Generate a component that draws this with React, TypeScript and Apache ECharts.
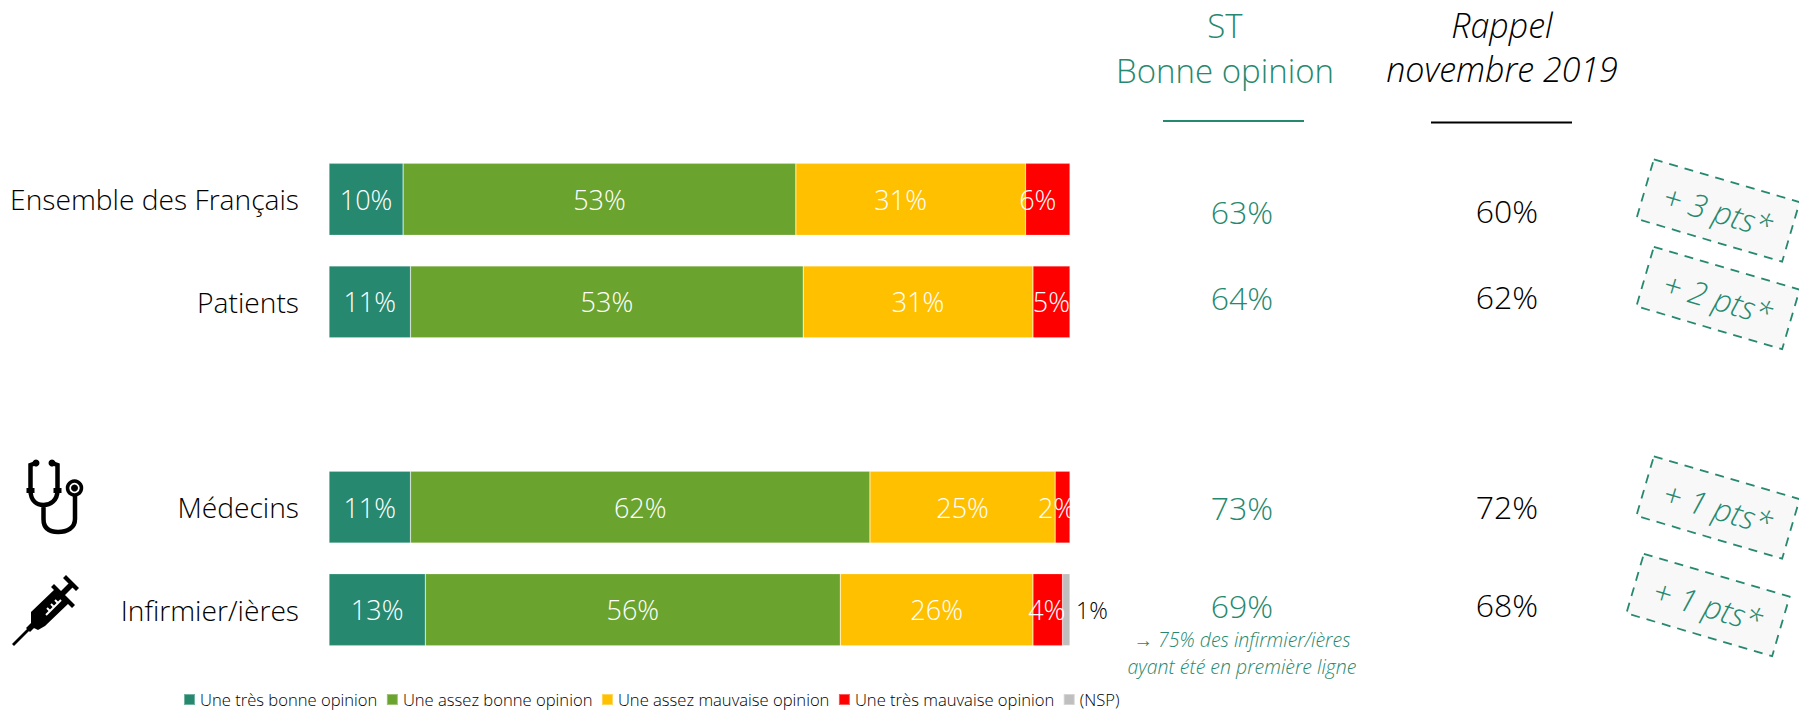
import React, { useEffect, useRef } from "react";
import * as echarts from "echarts";

const categories = ["Ensemble des Français", "Patients", "", "Médecins", "Infirmier/ières"];
const tresBonne = [10, 11, null, 11, 13];
const assezBonne = [53, 53, null, 62, 56];
const assezMauvaise = [31, 31, null, 25, 26];
const tresMauvaise = [6, 5, null, 2, 4];
const nsp = [null, null, null, null, 1];
const seriesNames = ["Une très bonne opinion", "Une assez bonne opinion", "Une assez mauvaise opinion", "Une très mauvaise opinion", "(NSP)"];
const stValues = ["63%", "64%", "73%", "69%"];
const rappelValues = ["60%", "62%", "72%", "68%"];
const deltas = ["+ 3 pts*", "+ 2 pts*", "+ 1 pts*", "+ 1 pts*"];

const FONT = "'Open Sans', sans-serif";
const TEAL = "#26896F";
const TEAL_TEXT = "#26896F";

echarts.graphic.registerShape(
  "stetho",
  echarts.graphic.extendPath(
    "M36 463 L30.5 465 L30.5 490 C30.5 501 37 505 43.5 505 C50 505 57.5 501 57.5 490 L57.5 465 L52 463 M43.5 505 L43.5 519 C43.5 529 50 532 58 532 C67 532 75 528 75 519 L75 496",
    {}
  )
);
echarts.graphic.registerShape(
  "syringe",
  echarts.graphic.extendPath(
    "M12 644 L28 628 L30 630 L14 646 Z M26 628 L31 623 L35 627 L30 632 Z M31 612 L55 589 L69 603 L45 626 L38 630 L34 628 L31 624 Z M54 584 L75 605 L72 608 L51 587 Z M60 592 L70 582 L74 586 L64 596 Z M63 578 L66 575 L79 588 L76 591 Z",
    {}
  )
);

const bar = (i: number, data: any[], color: string, offsets: Record<number, number[]> = {}) => ({
  name: seriesNames[i],
  type: "bar",
  stack: "total",
  barWidth: 72,
  data: data.map((v, k) => (offsets[k] ? { value: v, label: { offset: offsets[k] } } : v)),
  itemStyle: { color, borderColor: "rgba(255,255,255,0.35)", borderWidth: 0.6 },
  label: {
    show: true,
    position: "inside",
    color: "#fff",
    fontFamily: FONT,
    fontWeight: 300,
    fontSize: 27,
    formatter: (p: any) => (p.value == null ? "" : p.value + "%"),
  },
});

const headerStyle = (fill: string, italic = false) => ({
  fill,
  font: `${italic ? "italic " : ""}300 ${italic ? 34 : 33}px ${FONT}`,
  align: "center",
  verticalAlign: "middle",
});

const valueText = (text: string, x: number, y: number, fill: string) => ({
  type: "text",
  x,
  y,
  style: { text, fill, font: `300 32px ${FONT}`, align: "center", verticalAlign: "middle" },
});

const stampCenters = [
  [1718, 210.5],
  [1718, 298],
  [1718, 507.5],
  [1708, 605],
];
const valueRows = [211, 297, 507, 605];

export default function App() {
  const ref = useRef<HTMLDivElement>(null);
  useEffect(() => {
    document.body.style.margin = "0";
    const chart = echarts.init(ref.current!, null, { renderer: "svg" });
    chart.setOption({
      animation: false,
      backgroundColor: "#fff",
      legend: {
        left: 183,
        top: 691,
        itemWidth: 11,
        itemHeight: 11,
        itemGap: 8.5,
        icon: "rect",
        padding: 0,
        textStyle: { fontFamily: FONT, fontSize: 16.6, fontWeight: 300, color: "#000" },
        data: seriesNames,
      },
      grid: { left: 329, top: 148, width: 741, height: 513 },
      xAxis: { type: "value", min: 0, max: 100, show: false },
      yAxis: {
        type: "category",
        inverse: true,
        data: categories,
        axisLine: { show: false },
        axisTick: { show: false },
        axisLabel: { margin: 30, color: "#000", fontFamily: FONT, fontWeight: 300, fontSize: 28.2, padding: [0, 0, 3, 0] },
      },
      series: [
        bar(0, tresBonne, TEAL),
        bar(1, assezBonne, "#6AA32D"),
        bar(2, assezMauvaise, "#FFC000", { 0: [-10, 0] }),
        bar(3, tresMauvaise, "#FF0000", { 0: [-10, 0], 3: [-6, 0], 4: [-1, 0] }),
        {
          ...bar(4, nsp, "#BFBFBF"),
          label: {
            show: true,
            position: "right",
            distance: 6,
            color: "#000",
            fontFamily: FONT,
            fontWeight: 300,
            fontSize: 23,
            formatter: (p: any) => (p.value == null ? "" : p.value + "%"),
          },
        },
      ],
      graphic: [
        { type: "text", x: 1225, y: 25, style: { text: "ST", ...headerStyle(TEAL_TEXT) } },
        { type: "text", x: 1225, y: 70, style: { text: "Bonne opinion", ...headerStyle(TEAL_TEXT) } },
        { type: "text", x: 1502, y: 25, style: { text: "Rappel", ...headerStyle("#000", true) } },
        { type: "text", x: 1502, y: 69, style: { text: "novembre 2019", ...headerStyle("#000", true) } },
        { type: "line", shape: { x1: 1163, y1: 121, x2: 1304, y2: 121 }, style: { stroke: TEAL_TEXT, lineWidth: 2 } },
        { type: "line", shape: { x1: 1431, y1: 122.5, x2: 1572, y2: 122.5 }, style: { stroke: "#000", lineWidth: 2 } },
        ...stValues.map((t, i) => valueText(t, 1242, valueRows[i], TEAL_TEXT)),
        ...rappelValues.map((t, i) => valueText(t, 1507, valueRows[i] - 1, "#000")),
        {
          type: "text",
          x: 1242,
          y: 639,
          style: { text: "→ 75% des infirmier/ières", fill: TEAL_TEXT, font: `italic 300 19.5px ${FONT}`, align: "center", verticalAlign: "middle" },
        },
        {
          type: "text",
          x: 1242,
          y: 666,
          style: { text: "ayant été en première ligne", fill: TEAL_TEXT, font: `italic 300 19.5px ${FONT}`, align: "center", verticalAlign: "middle" },
        },
        ...deltas.map((t, i) => ({
          type: "group",
          x: stampCenters[i][0],
          y: stampCenters[i][1],
          rotation: -0.286,
          children: [
            {
              type: "rect",
              shape: { x: -76, y: -31, width: 152, height: 62 },
              style: { fill: "#F8F8F8", stroke: TEAL, lineWidth: 1.8, lineDash: [9, 7] },
            },
            {
              type: "text",
              style: { text: t, fill: TEAL, font: `italic 300 32px ${FONT}`, align: "center", verticalAlign: "middle" },
            },
          ],
        })),
        { type: "stetho", style: { fill: "none", stroke: "#000", lineWidth: 4.5 } },
        { type: "line", shape: { x1: 30.5, y1: 488, x2: 30.5, y2: 493 }, style: { stroke: "#000", lineWidth: 8 } },
        { type: "line", shape: { x1: 57.5, y1: 488, x2: 57.5, y2: 493 }, style: { stroke: "#000", lineWidth: 8 } },
        { type: "circle", shape: { cx: 36, cy: 463, r: 3.5 }, style: { fill: "#000" } },
        { type: "circle", shape: { cx: 52, cy: 463, r: 3.5 }, style: { fill: "#000" } },
        { type: "circle", shape: { cx: 74.5, cy: 488, r: 7 }, style: { fill: "#fff", stroke: "#000", lineWidth: 3.5 } },
        { type: "circle", shape: { cx: 74.5, cy: 488, r: 3.5 }, style: { fill: "#000" } },
        { type: "syringe", style: { fill: "#000" } },
        { type: "line", shape: { x1: 46, y1: 615, x2: 61, y2: 600 }, style: { stroke: "#fff", lineWidth: 2 } },
        { type: "line", shape: { x1: 50, y1: 611, x2: 47, y2: 608 }, style: { stroke: "#fff", lineWidth: 2 } },
        { type: "line", shape: { x1: 54, y1: 607, x2: 51, y2: 604 }, style: { stroke: "#fff", lineWidth: 2 } },
        { type: "line", shape: { x1: 58, y1: 603, x2: 55, y2: 600 }, style: { stroke: "#fff", lineWidth: 2 } },
      ],
    });
    return () => chart.dispose();
  }, []);
  return <div ref={ref} style={{ width: 1799, height: 710 }} />;
}
